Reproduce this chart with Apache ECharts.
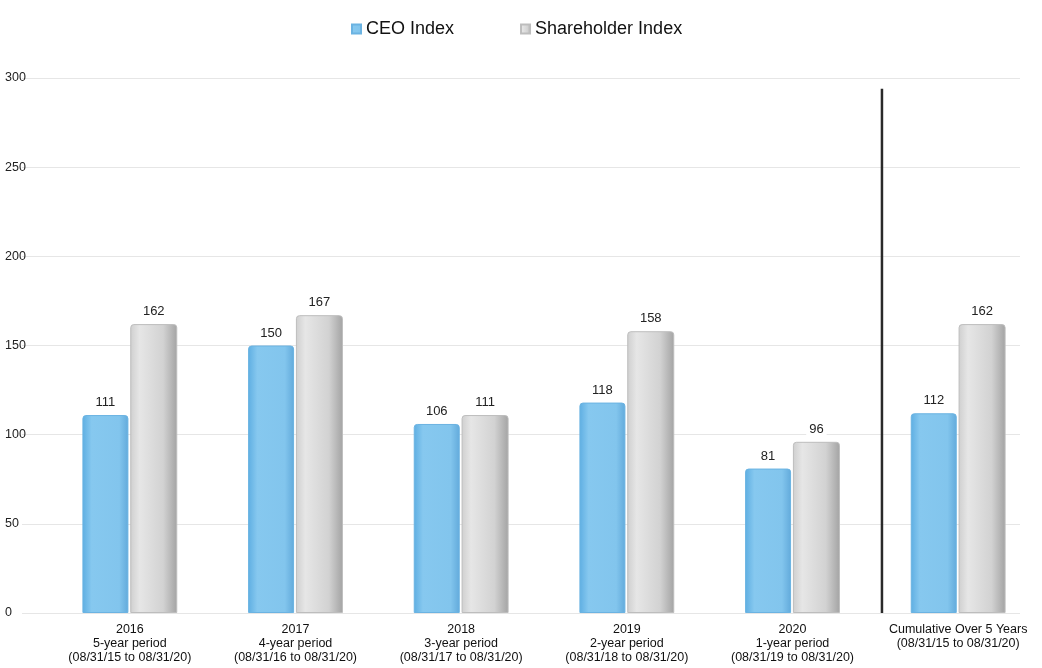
<!DOCTYPE html>
<html><head><meta charset="utf-8">
<script src="https://cdn.jsdelivr.net/npm/echarts@6/dist/echarts.min.js"></script>
<style>html,body{margin:0;padding:0;background:#fff}#c{width:1042px;height:668px}</style>
</head><body><div id="c"></div>
<script>
const categories = [
  "2016\n5-year period\n(08/31/15 to 08/31/20)",
  "2017\n4-year period\n(08/31/16 to 08/31/20)",
  "2018\n3-year period\n(08/31/17 to 08/31/20)",
  "2019\n2-year period\n(08/31/18 to 08/31/20)",
  "2020\n1-year period\n(08/31/19 to 08/31/20)",
  "Cumulative Over 5 Years\n(08/31/15 to 08/31/20)"
];
const ceoIndex = [111, 150, 106, 118, 81, 112];
const shareholderIndex = [162, 167, 111, 158, 96, 162];
const yMin = 0, yMax = 300, yInterval = 50;
// separator between "2020" and "Cumulative" (near category boundary 5 of 6)
const separatorX = 5.04;
const separatorTop = 294;

const chart = echarts.init(document.getElementById('c'));
const blueGrad = new echarts.graphic.LinearGradient(0,0,1,0,[
  {offset:0,color:'#5eaee2'},{offset:0.2,color:'#86c8ef'},{offset:0.8,color:'#82c5ed'},{offset:1,color:'#62aadb'}]);
const grayGrad = new echarts.graphic.LinearGradient(0,0,1,0,[
  {offset:0,color:'#cfcfcf'},{offset:0.2,color:'#e6e6e6'},{offset:0.7,color:'#d2d2d2'},{offset:1,color:'#a3a3a3'}]);
const lbl = {show:true, position:'top', distance:4, color:'#222', fontSize:13,
  fontFamily:'Liberation Sans', backgroundColor:'#fff', padding:[2,3]};
chart.setOption({
  animation:false,
  legend:{top:15, left:346, itemWidth:9, itemHeight:9, itemGap:66,
    textStyle:{fontSize:18, color:'#111', fontFamily:'Liberation Sans'},
    data:[{name:'CEO Index', icon:'rect'},{name:'Shareholder Index', icon:'rect'}]},
  grid:[
    {left:22, right:22, top:78, bottom:55},
    {left:47, right:1, top:78, bottom:55},
    {left:47, right:1, top:78, bottom:55}
  ],
  xAxis:[
    {type:'value', gridIndex:0, show:false, min:0, max:1},
    {type:'category', gridIndex:1, data:categories,
      axisLine:{show:false}, axisTick:{show:false},
      axisLabel:{margin:10, fontSize:12.5, lineHeight:14, color:'#111', fontFamily:'Liberation Sans', interval:0},
      splitLine:{show:false}},
    {type:'value', gridIndex:2, show:false, min:0, max:categories.length, splitLine:{show:false}}
  ],
  yAxis:[
    {type:'value', gridIndex:0, min:yMin, max:yMax, interval:yInterval,
      axisLine:{show:false}, axisTick:{show:false},
      axisLabel:{align:'left', margin:17, fontSize:12.5, color:'#222', fontFamily:'Liberation Sans'},
      splitLine:{lineStyle:{color:'#e6e6e6', width:1}}},
    {type:'value', gridIndex:1, min:yMin, max:yMax, interval:yInterval, show:false, splitLine:{show:false}},
    {type:'value', gridIndex:2, min:yMin, max:yMax, interval:yInterval, show:false, splitLine:{show:false}}
  ],
  series:[
    {name:'CEO Index', type:'bar', xAxisIndex:1, yAxisIndex:1, data:ceoIndex, barWidth:46, barGap:'4%',
      itemStyle:{color:blueGrad, borderColor:'#6bb3e2', borderWidth:1, borderRadius:[3,3,0,0]}, label:lbl},
    {name:'Shareholder Index', type:'bar', xAxisIndex:1, yAxisIndex:1, data:shareholderIndex, barWidth:47,
      itemStyle:{color:grayGrad, borderColor:'#bdbdbd', borderWidth:1, borderRadius:[3,3,0,0]}, label:lbl},
    {name:'separator', type:'line', xAxisIndex:2, yAxisIndex:2, symbol:'none', silent:true,
      data:[[separatorX, separatorTop],[separatorX, yMin]],
      lineStyle:{color:'#2a2a2a', width:2.5}, z:5}
  ]
});
</script></body></html>
